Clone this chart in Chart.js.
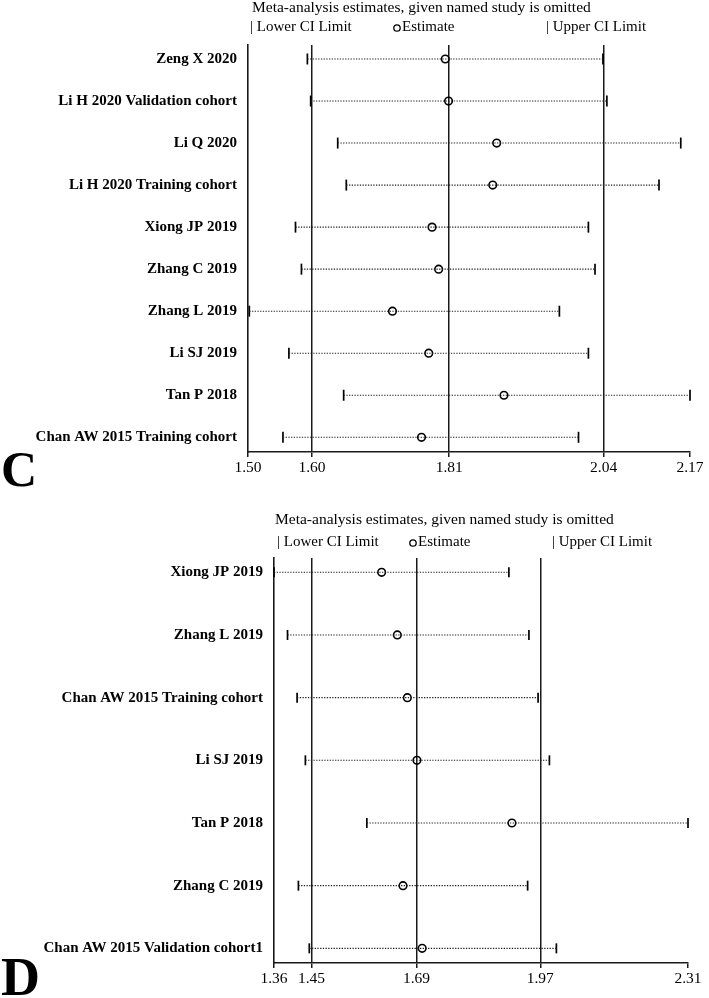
<!DOCTYPE html>
<html lang="en">
<head>
<meta charset="UTF-8">
<title>Sensitivity analysis</title>
<script src="https://cdn.jsdelivr.net/npm/chart.js"></script>
<style>
  body { margin: 0; background: #fff; }
  .panel { position: relative; width: 709px; }
  #panelC { height: 498px; }
  #panelD { height: 500px; }
</style>
</head>
<body>

<div class="panel" id="panelC"><canvas id="chartC"></canvas></div>
<div class="panel" id="panelD"><canvas id="chartD"></canvas></div>

<script>
  // Panel C
  const studiesC = ['Zeng X 2020', 'Li H 2020 Validation cohort', 'Li Q 2020', 'Li H 2020 Training cohort',
    'Xiong JP 2019', 'Zhang C 2019', 'Zhang L 2019', 'Li SJ 2019', 'Tan P 2018', 'Chan AW 2015 Training cohort'];
  const estimateC = [1.799, 1.804, 1.877, 1.871, 1.779, 1.789, 1.719, 1.774, 1.888, 1.763];
  const lowerC = [1.590, 1.595, 1.636, 1.649, 1.572, 1.581, 1.502, 1.562, 1.645, 1.553];
  const upperC = [2.038, 2.044, 2.156, 2.123, 2.016, 2.026, 1.972, 2.016, 2.170, 2.001];
  const refLinesC = [1.597, 1.805, 2.039];   // pooled lower / estimate / upper
  const axisC = [1.50, 2.17];
  const tickLabelsC = ['1.50', '1.60', '1.81', '2.04', '2.17'];

  // Panel D
  const studiesD = ['Xiong JP 2019', 'Zhang L 2019', 'Chan AW 2015 Training cohort', 'Li SJ 2019',
    'Tan P 2018', 'Zhang C 2019', 'Chan AW 2015 Validation cohort1'];
  const estimateD = [1.607, 1.643, 1.666, 1.688, 1.906, 1.656, 1.700];
  const lowerD = [1.360, 1.391, 1.413, 1.432, 1.573, 1.416, 1.441];
  const upperD = [1.899, 1.945, 1.966, 1.992, 2.310, 1.942, 2.008];
  const refLinesD = [1.446, 1.687, 1.971];
  const axisD = [1.36, 2.31];
  const tickLabelsD = ['1.36', '1.45', '1.69', '1.97', '2.31'];

  const FONT = '"Liberation Serif", "Times New Roman", serif';
  const INK = '#000';

  const headerPlugin = {
    id: 'header',
    afterDraw(chart, args, o) {
      const { ctx, chartArea } = chart;
      const L = chartArea.left, T = chartArea.top;
      ctx.save();
      ctx.fillStyle = INK;
      ctx.strokeStyle = INK;
      ctx.font = '15.5px ' + FONT;
      ctx.textBaseline = 'middle';
      ctx.fillText('Meta-analysis estimates, given named study is omitted', L + o.titleX, T + o.titleY);
      ctx.font = '15px ' + FONT;
      ctx.fillText('| Lower CI Limit', L + o.lowerX, T + o.legendY);
      ctx.fillText('Estimate', L + o.estX + 7, T + o.legendY);
      ctx.fillText('| Upper CI Limit', L + o.upperX, T + o.legendY);
      ctx.beginPath();
      ctx.lineWidth = 1.3;
      ctx.arc(L + o.estX + 2, T + o.legendY + 1, 3.2, 0, Math.PI * 2);
      ctx.stroke();
      // panel letter
      ctx.font = 'bold ' + o.letterSize + 'px ' + FONT;
      ctx.textBaseline = 'alphabetic';
      ctx.fillText(o.letter, 1, o.letterY);
      ctx.restore();
    }
  };

  function buildDatasets(lower, est, upper, capRadius) {
    const sets = lower.map((lo, i) => ({
      data: [{ x: lo, y: i }, { x: upper[i], y: i }],
      showLine: true,
      borderColor: '#222',
      borderWidth: 1.1,
      borderDash: [1.3, 1.4],
      pointRadius: 0,
      clip: false
    }));
    // CI end caps
    sets.push({
      data: lower.flatMap((lo, i) => [{ x: lo, y: i }, { x: upper[i], y: i }]),
      pointStyle: 'line',
      rotation: 90,
      pointRadius: capRadius,
      borderColor: INK,
      borderWidth: 1.7,
      clip: false
    });
    // estimates
    sets.push({
      data: est.map((v, i) => ({ x: v, y: i })),
      pointStyle: 'circle',
      pointRadius: 3.8,
      borderColor: INK,
      backgroundColor: 'transparent',
      borderWidth: 1.6,
      clip: false
    });
    return sets;
  }

  function makeChart(id, p) {
    const tickVals = [p.axis[0], ...p.refLines, p.axis[1]];
    return new Chart(document.getElementById(id), {
      type: 'scatter',
      data: { datasets: buildDatasets(p.lower, p.est, p.upper, p.capRadius) },
      plugins: [headerPlugin],
      options: {
        responsive: true,
        maintainAspectRatio: false,
        animation: false,
        layout: { padding: { top: p.top, right: p.right, left: 0, bottom: 0 } },
        plugins: {
          legend: { display: false },
          tooltip: { enabled: false },
          header: p.header
        },
        scales: {
          x: {
            type: 'linear',
            min: p.axis[0],
            max: p.axis[1],
            afterBuildTicks: s => { s.ticks = tickVals.map(v => ({ value: v })); },
            afterFit: s => { s.height = p.xAxisH; },
            ticks: {
              callback: (v, i) => p.tickLabels[i],
              autoSkip: false,
              maxRotation: 0,
              padding: 2,
              color: INK,
              font: { family: FONT, size: 15.5 }
            },
            grid: {
              color: c => (c.tick && p.refLines.includes(c.tick.value)) ? '#1a1a1a' : 'transparent',
              lineWidth: 1.5,
              tickColor: '#1a1a1a',
              tickLength: 5
            },
            border: { color: '#1a1a1a', width: 1.6 }
          },
          y: {
            type: 'linear',
            reverse: true,
            min: p.yRange[0],
            max: p.yRange[1],
            afterBuildTicks: s => { s.ticks = p.studies.map((_, i) => ({ value: i })); },
            afterFit: s => { s.width = p.left; },
            ticks: {
              callback: v => p.studies[v],
              autoSkip: false,
              padding: 11,
              color: INK,
              font: { family: FONT, size: 15, weight: 'bold' }
            },
            grid: { display: false, drawTicks: false },
            border: { color: '#1a1a1a', width: 1.6 }
          }
        }
      }
    });
  }

  makeChart('chartC', {
    studies: studiesC, est: estimateC, lower: lowerC, upper: upperC,
    refLines: refLinesC, axis: axisC, tickLabels: tickLabelsC,
    yRange: [-0.333, 9.35], capRadius: 5.5,
    top: 45, right: 19, left: 248, xAxisH: 46,
    header: { titleX: 4, titleY: -37, lowerX: 2, legendY: -18, estX: 147, upperX: 298,
      letter: 'C', letterSize: 50, letterY: 486 }
  });

  makeChart('chartD', {
    studies: studiesD, est: estimateD, lower: lowerD, upper: upperD,
    refLines: refLinesD, axis: axisD, tickLabels: tickLabelsD,
    yRange: [-0.228, 6.234], capRadius: 5,
    top: 60, right: 21, left: 274, xAxisH: 35,
    header: { titleX: 1, titleY: -38, lowerX: 3, legendY: -16, estX: 137, upperX: 278,
      letter: 'D', letterSize: 54, letterY: 497 }
  });
</script>

</body>
</html>
